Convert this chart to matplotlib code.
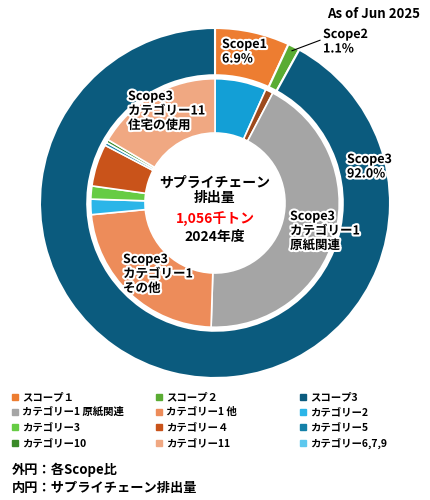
import matplotlib
matplotlib.use("Agg")
import matplotlib.pyplot as plt
import matplotlib.patheffects as pe

plt.rcParams['font.family'] = ['Noto Sans CJK JP', 'DejaVu Sans']

outer_labels = ["スコープ１", "スコープ２", "スコープ3"]
outer_values = [6.9, 1.1, 92.0]
outer_colors = ["#ed7d31", "#5aac33", "#0b5b7e"]

inner_values = [6.7, 1.0, 42.8, 23.0, 2.0, 1.7, 5.5, 0.4, 0.4, 16.5]
inner_colors = ["#139fd6", "#9e4a1c", "#a5a5a5", "#ed8c5a", "#2bb5e8", "#66cc44",
                "#c9531a", "#1380a8", "#3a8a28", "#f0a882"]

legend_labels = ["スコープ１", "スコープ２", "スコープ3",
                 "カテゴリー1 原紙関連", "カテゴリー1 他", "カテゴリー2",
                 "カテゴリー3", "カテゴリー４", "カテゴリー5",
                 "カテゴリー10", "カテゴリー11", "カテゴリー6,7,9"]
legend_colors = ["#ed7d31", "#5aac33", "#0b5b7e",
                 "#a5a5a5", "#ed8c5a", "#2bb5e8",
                 "#66cc44", "#c9531a", "#1380a8",
                 "#3a8a28", "#f0a882", "#5dc8ee"]

fig = plt.figure(figsize=(4.3, 5.0), dpi=100)
ax = fig.add_axes([40/430, (500-378)/500, 350/430, 350/500])

ax.pie(outer_values, colors=outer_colors, radius=1.0, startangle=90, counterclock=False,
       wedgeprops=dict(width=0.27, edgecolor='white', linewidth=1.5))
ax.pie(inner_values, colors=inner_colors, radius=0.71, startangle=90, counterclock=False,
       wedgeprops=dict(width=0.31, edgecolor='white', linewidth=1.2))
ax.set_xlim(-1, 1); ax.set_ylim(-1, 1); ax.axis('off')

st = [pe.withStroke(linewidth=3, foreground='white')]
def lbl(x, y, s):
    t = fig.text(x/430, 1-y/500, s, fontsize=9, fontweight='bold', va='top', ha='left',
                 linespacing=1.15)
    t.set_path_effects(st)
    return t

lbl(222, 38, "Scope1\n6.9%")
lbl(323, 28, "Scope2\n1.1%")
lbl(347, 153, "Scope3\n92.0%")
lbl(290, 210, "Scope3\nカテゴリー1\n原紙関連")
lbl(128, 90, "Scope3\nカテゴリー11\n住宅の使用")
lbl(123, 253, "Scope3\nカテゴリー1\nその他")
ax.plot([0.44, 0.6], [0.87, 0.93], color='black', lw=0.8)

fig.text(215/430, 1-190/500, "サプライチェーン\n排出量", fontsize=10, fontweight='bold',
         ha='center', va='center', linespacing=1.1)
fig.text(215/430, 1-219/500, "1,056千トン", fontsize=10, fontweight='bold', color='red',
         ha='center', va='center')
fig.text(215/430, 1-237/500, "2024年度", fontsize=10, fontweight='bold',
         ha='center', va='center')

fig.text(420/430, 1-14/500, "As of Jun 2025", fontsize=9.5, fontweight='bold',
         ha='right', va='center')

xs = [12, 156, 300]
ys = [397, 412, 427, 443]
for i, (l, c) in enumerate(zip(legend_labels, legend_colors)):
    r, col = divmod(i, 3)
    x, y = xs[col], ys[r]
    fig.patches.append(plt.Rectangle((x/430, 1-(y+3)/500), 6/430, 6/500,
                                     transform=fig.transFigure, color=c))
    fig.text((x+10)/430, 1-y/500, l, fontsize=7.5, fontweight='bold', va='center', ha='left')

fig.text(12/430, 1-470/500, "外円：各Scope比", fontsize=9.5, fontweight='bold', va='center')
fig.text(12/430, 1-488/500, "内円：サプライチェーン排出量", fontsize=9.5, fontweight='bold', va='center')

fig.savefig("out.png", dpi=100)
